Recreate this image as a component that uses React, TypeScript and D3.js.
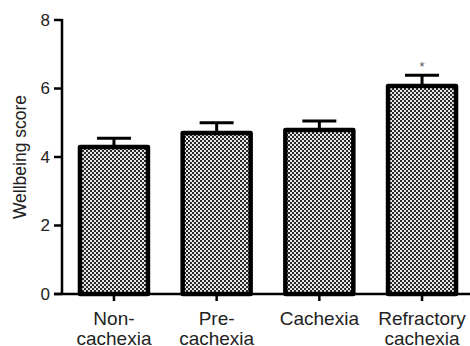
import React from "react";
import { scaleBand, scaleLinear } from "d3";

// values
const categories = ["Non-cachexia", "Pre-cachexia", "Cachexia", "Refractory cachexia"];
const labelLines = [["Non-", "cachexia"], ["Pre-", "cachexia"], ["Cachexia"], ["Refractory", "cachexia"]];
const means = [4.29, 4.7, 4.79, 6.07];
const errors = [0.26, 0.3, 0.26, 0.32];
const significant = [false, false, false, true];
const yTicks = [0, 2, 4, 6, 8];

const W = 470;
const H = 346;
const font = "'Liberation Sans', Arial, Helvetica, sans-serif";

export default function App() {
  const y = scaleLinear().domain([0, 8]).range([294, 20]);
  const x = scaleBand()
    .domain(categories)
    .range([62, 474])
    .paddingInner(0.338)
    .paddingOuter(0.175);
  const bw = x.bandwidth();

  return (
    <svg
      width={W}
      height={H}
      style={{ position: "absolute", left: 0, top: 0, background: "#fff" }}
      fontFamily={font}
    >
      <defs>
        <pattern id="checker" width={4} height={4} patternUnits="userSpaceOnUse">
          <rect width={4} height={4} fill="#e8e8e8" />
          <rect x={0} y={0} width={2} height={2} fill="#2a2a2a" />
          <rect x={2} y={2} width={2} height={2} fill="#2a2a2a" />
        </pattern>
      </defs>

      {/* bars */}
      {categories.map((c, i) => {
        const x0 = x(c)!;
        const cx = x0 + bw / 2;
        const top = y(means[i]);
        const cap = y(means[i] + errors[i]);
        return (
          <g key={c}>
            <line x1={cx} x2={cx} y1={top} y2={cap} stroke="#000" strokeWidth={3} />
            <line x1={cx - bw / 4} x2={cx + bw / 4} y1={cap} y2={cap} stroke="#000" strokeWidth={3} />
            <rect
              x={x0}
              y={top}
              width={bw}
              height={y(0) - top}
              fill="url(#checker)"
              stroke="#000"
              strokeWidth={4.5}
              strokeLinejoin="round"
            />
            {significant[i] && (
              <text x={cx} y={cap - 4} textAnchor="middle" fontSize={13} fill="#555">
                *
              </text>
            )}
          </g>
        );
      })}

      {/* y axis */}
      <line x1={62} x2={62} y1={y(8) - 1} y2={y(0)} stroke="#000" strokeWidth={2.5} />
      {yTicks.map((t) => (
        <g key={t}>
          <line x1={54} x2={62} y1={y(t)} y2={y(t)} stroke="#000" strokeWidth={2.5} />
          <text x={50} y={y(t)} dy="0.35em" textAnchor="end" fontSize={17} fill="#222">
            {t}
          </text>
        </g>
      ))}
      <text
        transform={`translate(20,${(y(0) + y(8)) / 2}) rotate(-90)`}
        textAnchor="middle"
        dy="0.35em"
        fontSize={17.5}
        fill="#222"
      >
        Wellbeing score
      </text>

      {/* x axis */}
      <line x1={54} x2={470} y1={y(0)} y2={y(0)} stroke="#000" strokeWidth={2.5} />
      {categories.map((c, i) => {
        const cx = x(c)! + bw / 2;
        return (
          <g key={c}>
            <line x1={cx} x2={cx} y1={y(0)} y2={y(0) + 7} stroke="#000" strokeWidth={2.5} />
            {labelLines[i].map((l, j) => (
              <text key={j} x={cx} y={325 + j * 19.5} textAnchor="middle" fontSize={19} fill="#222">
                {l}
              </text>
            ))}
          </g>
        );
      })}
    </svg>
  );
}
